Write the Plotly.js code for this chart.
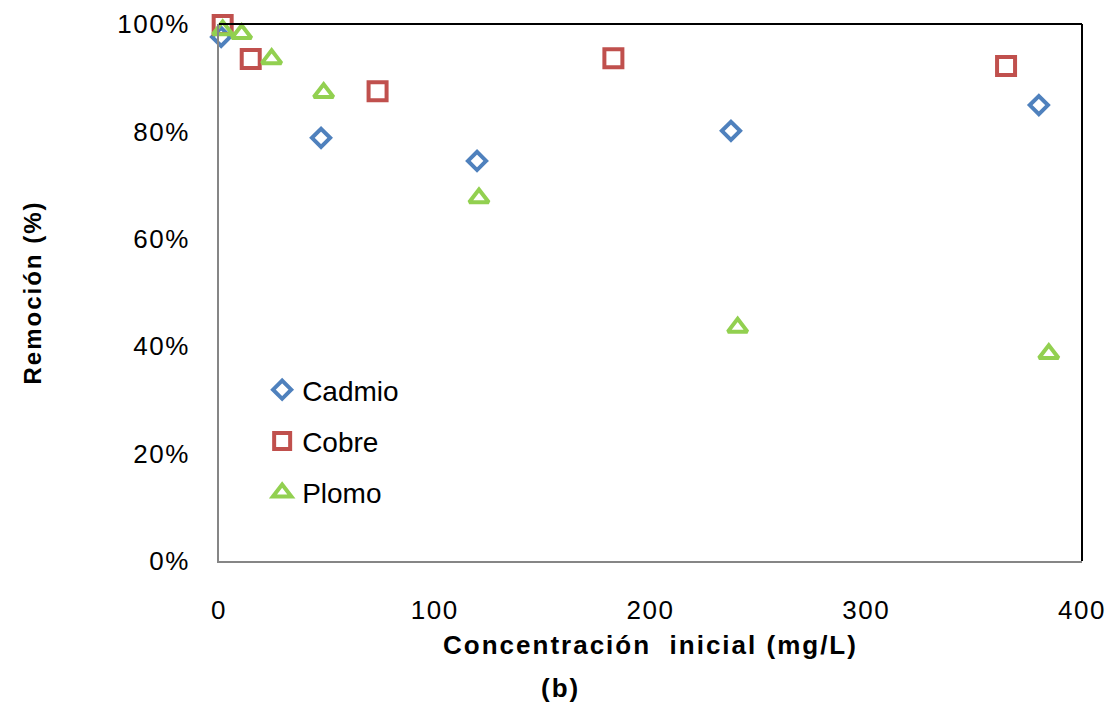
<!DOCTYPE html>
<html>
<head>
<meta charset="utf-8">
<script src="https://cdn.plot.ly/plotly-3.0.1.min.js"></script>
<style>
  html, body { margin: 0; padding: 0; background: #ffffff; }
  #chart { width: 1118px; height: 703px; }
  #chart .xtick text, #chart .ytick text { letter-spacing: 1.5px; }
  #chart .g-xtitle text, #chart .g-ytitle text { letter-spacing: 2px; }
  #chart .annotation-text { letter-spacing: 2px; }
  #chart .scatterlayer path.point, #chart .legendpoints path.scatterpts { stroke-width: 4px !important; }
</style>
</head>
<body>
<div id="chart"></div>
<script>
// Data
const seriesNames = ["Cadmio", "Cobre", "Plomo"];
const xCadmio = [1, 47.3, 119.6, 237.3, 380];
const yCadmio = [0.976, 0.788, 0.745, 0.801, 0.849];
const xCobre = [1.7, 14.7, 73.5, 182.8, 364.8];
const yCobre = [0.998, 0.935, 0.875, 0.936, 0.922];
const xPlomo = [1.7, 10.5, 24.4, 48.5, 120.5, 240.4, 384.6];
const yPlomo = [0.989, 0.982, 0.935, 0.872, 0.676, 0.435, 0.386];
const xTicks = [0, 100, 200, 300, 400];
const yTicks = [0, 0.2, 0.4, 0.6, 0.8, 1.0];

const FONT = "Liberation Sans, Arial, sans-serif";

function trace(name, x, y, symbol, size, color, group) {
  return {
    type: "scatter", mode: "markers", name: name, x: x, y: y,
    legendgroup: group, cliponaxis: false,
    marker: { symbol: symbol, size: size, color: "rgba(255,255,255,0)",
              line: { color: color, width: 4 } },
    hoverinfo: "x+y+name"
  };
}

const data = [
  trace(seriesNames[0], xCadmio, yCadmio, "diamond", 14, "#4F81BD", "g1"),
  trace(seriesNames[1], xCobre, yCobre, "square", 18, "#C0504D", "g2"),
  trace(seriesNames[2], xPlomo, yPlomo, "triangle-up", 17, "#92D050", "g3")
];

const layout = {
  width: 1118, height: 703,
  paper_bgcolor: "#ffffff", plot_bgcolor: "#ffffff",
  margin: { l: 219, r: 36, t: 24, b: 142 },
  font: { family: FONT, color: "#000000", size: 24 },
  showlegend: true,
  legend: {
    x: 0.05, y: 0.365, xanchor: "left", yanchor: "top",
    bgcolor: "rgba(0,0,0,0)", borderwidth: 0,
    font: { family: FONT, size: 28, color: "#000000" },
    tracegroupgap: 12, traceorder: "grouped"
  },
  xaxis: {
    range: [0, 400], tickvals: xTicks, ticktext: xTicks.map(String),
    showgrid: false, zeroline: false,
    showline: true, linecolor: "#868686", linewidth: 2,
    ticks: "", ticklabelstandoff: 25,
    tickfont: { family: FONT, size: 26, color: "#000000" },
    title: { text: "Concentración  inicial (mg/L)", standoff: 12,
             font: { family: FONT, size: 26, color: "#000000", weight: "bold" } },
    fixedrange: true
  },
  yaxis: {
    range: [0, 1], tickvals: yTicks, ticktext: yTicks.map(v => Math.round(v * 100) + "%"),
    showgrid: false, zeroline: false,
    showline: true, linecolor: "#868686", linewidth: 2,
    ticks: "", ticklabelstandoff: 22,
    tickfont: { family: FONT, size: 26, color: "#000000" },
    title: { text: "Remoción (%)", standoff: 75,
             font: { family: FONT, size: 24, color: "#000000", weight: "bold" } },
    fixedrange: true
  },
  shapes: [
    { type: "line", xref: "paper", yref: "paper", x0: 0, x1: 1, y0: 1, y1: 1,
      line: { color: "#000000", width: 2 } },
    { type: "line", xref: "paper", yref: "paper", x0: 1, x1: 1, y0: 0, y1: 1,
      line: { color: "#000000", width: 2 } }
  ],
  annotations: [
    { text: "(b)", xref: "paper", yref: "paper", x: (560 - 219) / 863, y: -(688 - 561) / 537,
      xanchor: "center", yanchor: "middle", showarrow: false,
      font: { family: FONT, size: 26, color: "#000000", weight: "bold" } }
  ]
};

Plotly.newPlot("chart", data, layout, { displayModeBar: false, staticPlot: true });
</script>
</body>
</html>
